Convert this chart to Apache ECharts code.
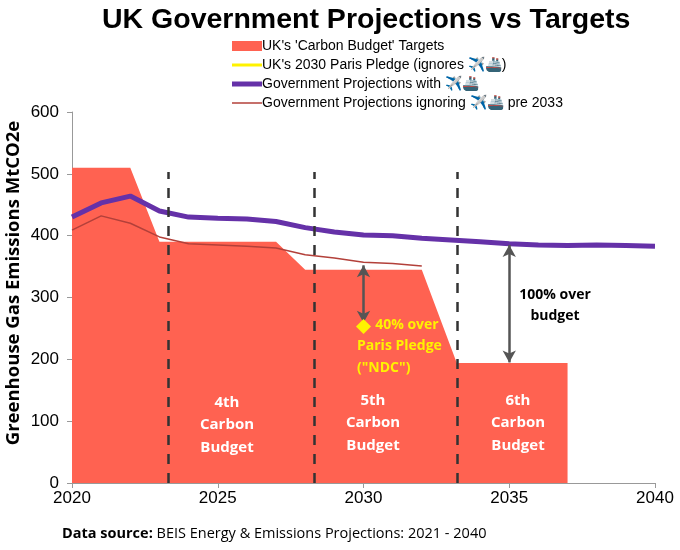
<html lang="en">
<head>
    <meta http-equiv="Content-Type" content="text/html; charset=UTF-8">
    <script type="text/javascript" src="https://cdn.jsdelivr.net/npm/echarts@6/dist/echarts.min.js"></script>
    <style>body{margin:0;background:#fff;}</style>
</head>
<body>
<div id="main" style="height:550px;width:680px;"></div>
<script type="text/javascript">
    // carbon budgets (annual average of each 5 year budget), [year, MtCO2e]
    var budgetPoints = [[2020, 510], [2022, 510], [2023, 390], [2027, 390], [2028, 345],
                        [2032, 345], [2033.2, 194], [2037, 194], [2037, 0]];
    var parisPledge = [[2030, 253]];
    var years = [2020, 2021, 2022, 2023, 2024, 2025, 2026, 2027, 2028, 2029, 2030,
                 2031, 2032, 2033, 2034, 2035, 2036, 2037, 2038, 2039, 2040];
    var projWith = [430, 453, 464, 440, 430, 428, 427, 423, 413, 406, 401,
                    400, 396, 393, 390, 387, 385, 384, 385, 384, 383];
    var projIgnoring = [409, 432, 420, 398, 387, 385, 383, 380, 369, 364, 357, 355, 351];
    var budgetStarts = [2023.3, 2028.3, 2033.2];
    var xTicks = [2020, 2025, 2030, 2035, 2040];

    var icons = '\u2708\uFE0F\uD83D\uDEA2';
    var names = ["UK's 'Carbon Budget' Targets",
                 "UK's 2030 Paris Pledge (ignores " + icons + ")",
                 "Government Projections with " + icons,
                 "Government Projections ignoring " + icons + " pre 2033"];

    function pairs(xs, ys) {
        var out = [];
        for (var i = 0; i < ys.length; i++) out.push([xs[i], ys[i]]);
        return out;
    }

    var dashLines = budgetStarts.map(function (x) {
        return [{coord: [x, 0]}, {coord: [x, 503]}];
    });

    var myChart = echarts.init(document.getElementById('main'));
    var option = {
        animation: false,
        textStyle: {fontFamily: 'Liberation Sans, Arial, sans-serif'},
        title: {
            text: 'UK Government Projections vs Targets',
            left: 97, top: 1,
            textStyle: {fontSize: 28.5, fontWeight: 'bold', color: '#000'}
        },
        legend: {
            orient: 'vertical', left: 227, top: 34,
            itemWidth: 30, itemHeight: 10, itemGap: 5,
            textStyle: {fontSize: 14, color: '#000', padding: [0, 0, 0, -5], lineHeight: 14},
            data: [
                {name: names[0], icon: 'rect'},
                {name: names[1], icon: 'path://M0 0h30v3h-30z'},
                {name: names[2], icon: 'path://M0 0h30v5h-30z'},
                {name: names[3], icon: 'path://M0 0h30v1.5h-30z'}
            ]
        },
        grid: {left: 72, right: 25, top: 112, bottom: 67, outerBoundsMode: 'none'},
        xAxis: {
            type: 'value', min: 2020, max: 2040, interval: 5,
            axisLine: {lineStyle: {color: '#999'}},
            axisTick: {show: true, length: 5, lineStyle: {color: '#999'}},
            axisLabel: {fontSize: 17, color: '#000', margin: 7,
                formatter: function (v) { return xTicks.indexOf(v) >= 0 ? String(v) : ''; }},
            splitLine: {show: false}
        },
        yAxis: {
            type: 'value', min: 0, max: 600, interval: 100,
            axisLine: {show: true, lineStyle: {color: '#999'}},
            axisTick: {show: true, length: 5, lineStyle: {color: '#999'}},
            axisLabel: {fontSize: 17, color: '#000', margin: 13},
            splitLine: {show: false}
        },
        series: [
            {
                name: names[0], type: 'line', data: budgetPoints,
                symbol: 'none', color: '#FF6251',
                lineStyle: {width: 0}, areaStyle: {color: '#FF6251', opacity: 1},
                markLine: {
                    silent: true, symbol: 'none',
                    label: {show: false},
                    lineStyle: {type: [10, 9], color: '#333', width: 2.5},
                    data: dashLines
                }
            },
            {
                name: names[1], type: 'line', data: parisPledge,
                color: '#FFF200', symbol: 'diamond', symbolSize: 15,
                itemStyle: {color: '#FFF200'}, z: 5
            },
            {
                name: names[2], type: 'line', data: pairs(years, projWith),
                symbol: 'none', color: '#6531A8',
                lineStyle: {width: 5, color: '#6531A8'}, z: 4,
                markLine: {
                    silent: true, symbol: ['arrow', 'arrow'], symbolSize: [10, 12],
                    label: {show: false},
                    lineStyle: {type: 'solid', color: '#555', width: 2.5},
                    data: [
                        [{coord: [2035, 385]}, {coord: [2035, 195]}],
                        [{coord: [2030, 352]}, {coord: [2030, 259]}]
                    ]
                }
            },
            {
                name: names[3], type: 'line', data: pairs(years, projIgnoring),
                symbol: 'none', color: '#B3403A',
                lineStyle: {width: 1.5, color: '#B3403A'}, z: 3
            }
        ],
        graphic: [
            // y axis title
            {type: 'text', x: 14, y: 283, rotation: Math.PI / 2, z: 100, style: {
                text: 'Greenhouse Gas Emissions MtCO2e', font: 'bold 18.5px Open Sans',
                fill: '#000', align: 'center', verticalAlign: 'middle'}},
            {type: 'text', left: 62, top: 526, z: 100, style: {
                text: '{b|Data source:} BEIS Energy & Emissions Projections: 2021 - 2040',
                font: '14.5px Open Sans', fill: '#000',
                rich: {b: {fontWeight: 'bold', fontSize: 14.5, fontFamily: 'Open Sans'}}
            }},
            {type: 'text', x: 227, y: 391, z: 100, style: {
                text: '4th\nCarbon\nBudget', font: 'bold 15px Open Sans', fill: '#fff',
                align: 'center', lineHeight: 22.5}},
            {type: 'text', x: 373, y: 389, z: 100, style: {
                text: '5th\nCarbon\nBudget', font: 'bold 15px Open Sans', fill: '#fff',
                align: 'center', lineHeight: 22.5}},
            {type: 'text', x: 518, y: 389, z: 100, style: {
                text: '6th\nCarbon\nBudget', font: 'bold 15px Open Sans', fill: '#fff',
                align: 'center', lineHeight: 22.5}},
            {type: 'text', x: 555, y: 284, z: 100, style: {
                text: '100% over\nbudget', font: 'bold 14px Open Sans', fill: '#000',
                align: 'center', lineHeight: 21.5}},
            {type: 'text', x: 357, y: 314, z: 100, style: {
                text: '     40% over\nParis Pledge\n("NDC")', font: 'bold 14px Open Sans', fill: '#FFF200',
                align: 'left', lineHeight: 21.5}}
        ]
    };
    myChart.setOption(option);
</script>
</body>
</html>
